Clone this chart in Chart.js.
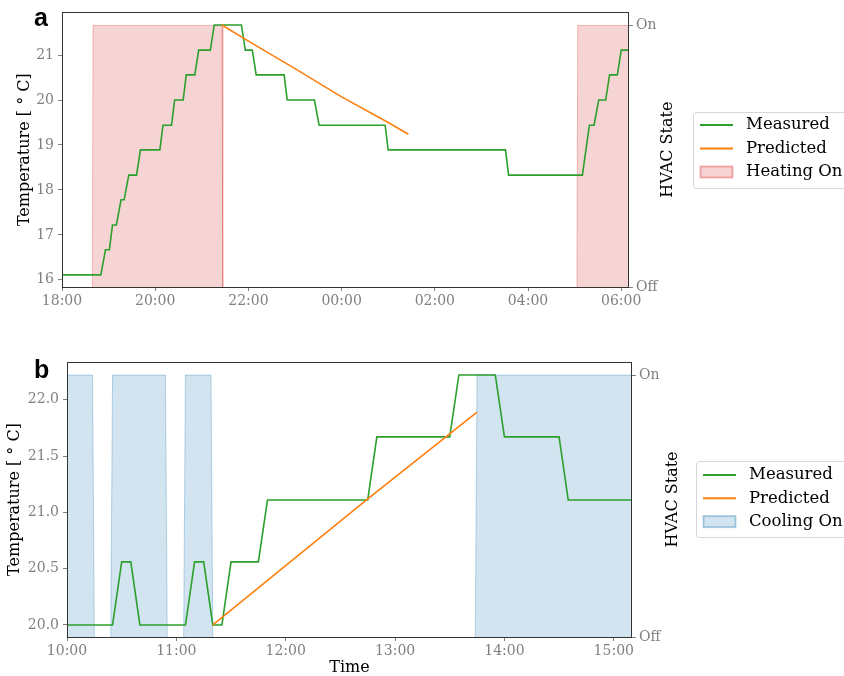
<!DOCTYPE html>
<html>
<head>
<meta charset="utf-8">
<script src="https://cdn.jsdelivr.net/npm/chart.js@4.4.1/dist/chart.umd.min.js"></script>
<style>
  html, body { margin: 0; padding: 0; background: #fff; }
  #wrap { position: relative; width: 844px; height: 676px; overflow: hidden; }
  .panel { position: absolute; left: 0; width: 844px; }
  #panelA { top: 0; height: 310px; }
  #panelB { top: 330px; height: 346px; }
</style>
</head>
<body>
<div id="wrap">
  <div class="panel" id="panelA"><canvas id="chartA" width="844" height="310"></canvas></div>
  <div class="panel" id="panelB"><canvas id="chartB" width="844" height="346"></canvas></div>
</div>
<script>
// ---- panel a: heating overnight ----
const heatStart = 18;
const heatEnd = '06:10';
const heatMeasuredTimes = ['18:00', '18:50', '18:56', '19:01', '19:05', '19:10', '19:16', '19:20', '19:26', '19:36',
  '19:41', '20:06', '20:10', '20:21', '20:25', '20:36', '20:40', '20:51', '20:56', '21:11', '21:16', '21:51',
  '21:56', '22:05', '22:10', '22:46', '22:50', '23:25', '23:31', '00:56', '01:00', '03:31', '03:35', '05:10',
  '05:19', '05:25', '05:31', '05:40', '05:45', '05:55', '06:00', '06:10'];
const heatMeasuredTemps = [16.11, 16.11, 16.67, 16.67, 17.22, 17.22, 17.78, 17.78, 18.33, 18.33,
  18.89, 18.89, 19.44, 19.44, 20.0, 20.0, 20.56, 20.56, 21.11, 21.11, 21.67, 21.67,
  21.11, 21.11, 20.56, 20.56, 20.0, 20.0, 19.44, 19.44, 18.89, 18.89, 18.33, 18.33,
  19.44, 19.44, 20.0, 20.0, 20.56, 20.56, 21.11, 21.11];
const heatPredictedTimes = ['21:26', '22:00', '23:00', '00:00', '01:00', '01:26'];
const heatPredictedTemps = [21.67, 21.31, 20.70, 20.07, 19.50, 19.24];
const heatStateTimes = ['18:00', '18:39', '18:40', '21:26', '21:27', '05:03', '05:04', '06:10'];
const heatState = [0, 0, 1, 1, 0, 0, 1, 1];
const heatTimeTicks = ['18:00', '20:00', '22:00', '00:00', '02:00', '04:00', '06:00'];
const heatTempTicks = [16, 17, 18, 19, 20, 21];

// ---- panel b: cooling during the day ----
const coolStart = 10;
const coolEnd = '15:10';
const coolMeasuredTimes = ['10:00', '10:25', '10:30', '10:35', '10:40', '11:05', '11:10', '11:15', '11:20', '11:25',
  '11:30', '11:45', '11:50', '12:45', '12:50', '13:30', '13:35', '13:55', '14:00', '14:30', '14:35', '15:10'];
const coolMeasuredTemps = [20.0, 20.0, 20.56, 20.56, 20.0, 20.0, 20.56, 20.56, 20.0, 20.0,
  20.56, 20.56, 21.11, 21.11, 21.67, 21.67, 22.22, 22.22, 21.67, 21.67, 21.11, 21.11];
const coolPredictedTimes = ['11:20', '12:45', '13:45'];
const coolPredictedTemps = [20.0, 21.12, 21.89];
const coolStateTimes = ['10:00', '10:14', '10:15', '10:24', '10:25', '10:54', '10:55', '11:04', '11:05',
  '11:19', '11:20', '13:44', '13:45', '15:10'];
const coolState = [1, 1, 0, 0, 1, 1, 0, 0, 1, 1, 0, 0, 1, 1];
const coolTimeTicks = ['10:00', '11:00', '12:00', '13:00', '14:00', '15:00'];
const coolTempTicks = [20.0, 20.5, 21.0, 21.5, 22.0];

const stateTicks = [0, 1];
const stateLabels = ['Off', 'On'];

const SERIF = "'DejaVu Serif', serif";
const TICK_GREY = '#808080';

function toHours(clock, startHour) {
  const [h, m] = clock.split(':').map(Number);
  let t = h + m / 60 - startHour;
  if (t < 0) t += 24;
  return t;
}

function toPoints(times, values, startHour) {
  return times.map((t, i) => ({ x: toHours(t, startHour), y: values[i] }));
}

// frame, axis titles, panel letter and legend
const panelDecor = {
  id: 'panelDecor',
  afterDatasetsDraw(chart) {
    const { ctx, chartArea: a } = chart;
    ctx.save();
    ctx.strokeStyle = '#333';
    ctx.lineWidth = 1;
    ctx.strokeRect(Math.round(a.left) + 0.5, Math.round(a.top) + 0.5,
      Math.round(a.right - a.left) - 1, Math.round(a.bottom - a.top));
    ctx.restore();
  },
  afterDraw(chart, args, opts) {
    const { ctx, chartArea: a } = chart;
    const midY = (a.top + a.bottom) / 2;
    ctx.save();
    ctx.fillStyle = '#000';
    ctx.font = '16px ' + SERIF;
    ctx.textAlign = 'center';
    ctx.textBaseline = 'middle';

    // left title
    ctx.save();
    ctx.translate(opts.leftTitleX, midY);
    ctx.rotate(-Math.PI / 2);
    ctx.fillText(opts.leftTitle, 0, 0);
    ctx.restore();

    // right title (reads bottom to top)
    ctx.save();
    ctx.translate(opts.rightTitleX, midY);
    ctx.rotate(-Math.PI / 2);
    ctx.fillText(opts.rightTitle, 0, 0);
    ctx.restore();

    if (opts.bottomTitle) {
      ctx.fillText(opts.bottomTitle, (a.left + a.right) / 2, opts.bottomTitleY);
    }

    // panel letter
    ctx.font = "bold 25px 'Liberation Sans', Arial, sans-serif";
    ctx.textAlign = 'left';
    ctx.textBaseline = 'alphabetic';
    ctx.fillText(opts.letter, opts.letterX, opts.letterY);

    // legend
    const lg = opts.legend;
    ctx.beginPath();
    ctx.roundRect(lg.x + 0.5, lg.y + 0.5, lg.w, lg.h, 3);
    ctx.fillStyle = 'rgba(255,255,255,0.8)';
    ctx.fill();
    ctx.strokeStyle = '#d6d6d6';
    ctx.lineWidth = 1;
    ctx.stroke();

    ctx.font = '16.5px ' + SERIF;
    ctx.textBaseline = 'middle';
    chart.data.datasets.forEach((ds, i) => {
      const y = lg.y + lg.first + i * lg.step;
      if (ds.fill) {
        ctx.fillStyle = ds.backgroundColor;
        ctx.fillRect(lg.x + lg.sx0, y - 6, lg.sx1 - lg.sx0, 12);
        ctx.strokeStyle = ds.borderColor;
        ctx.strokeRect(lg.x + lg.sx0 + 0.5, y - 6 + 0.5, lg.sx1 - lg.sx0 - 1, 11);
      } else {
        ctx.strokeStyle = ds.borderColor;
        ctx.lineWidth = 2;
        ctx.beginPath();
        ctx.moveTo(lg.x + lg.sx0, y);
        ctx.lineTo(lg.x + lg.sx1, y);
        ctx.stroke();
      }
      ctx.fillStyle = '#000';
      ctx.fillText(ds.label, lg.x + lg.tx, y);
    });
    ctx.restore();
  }
};

function makePanel(canvasId, p) {
  const edgeHidden = (c) => (c.p0.parsed.y === 0 && c.p1.parsed.y === 0) ? 'rgba(0,0,0,0)' : p.stateEdge;
  return new Chart(document.getElementById(canvasId), {
    type: 'line',
    data: {
      datasets: [
        {
          label: 'Measured',
          data: toPoints(p.measuredTimes, p.measuredTemps, p.start),
          borderColor: '#2ca02c',
          borderWidth: 1.6,
          pointRadius: 0,
          yAxisID: 'y',
          order: 2
        },
        {
          label: 'Predicted',
          data: toPoints(p.predictedTimes, p.predictedTemps, p.start),
          borderColor: '#ff7f0e',
          borderWidth: 1.6,
          pointRadius: 0,
          yAxisID: 'y',
          order: 1
        },
        {
          label: p.stateLabel,
          data: toPoints(p.stateTimes, p.state, p.start),
          borderColor: p.stateEdge,
          backgroundColor: p.stateFill,
          borderWidth: 1,
          pointRadius: 0,
          fill: 'origin',
          yAxisID: 'y2',
          order: 3,
          segment: { borderColor: edgeHidden }
        }
      ]
    },
    options: {
      responsive: false,
      animation: false,
      devicePixelRatio: 1,
      layout: { padding: { top: p.padTop, left: 0, right: 0, bottom: 0 } },
      plugins: {
        legend: { display: false },
        tooltip: { enabled: false },
        panelDecor: p.decor
      },
      scales: {
        x: {
          type: 'linear',
          min: 0,
          max: toHours(p.end, p.start),
          afterBuildTicks: s => { s.ticks = p.timeTicks.map(l => ({ value: toHours(l, p.start) })); },
          afterFit: s => { s.height = p.xHeight; },
          ticks: {
            autoSkip: false,
            maxRotation: 0,
            padding: 2,
            color: TICK_GREY,
            font: { family: SERIF, size: 14 },
            callback: (v, i) => p.timeTicks[i]
          },
          grid: { drawOnChartArea: false, drawTicks: true, tickLength: 4, color: TICK_GREY },
          border: { display: false }
        },
        y: {
          type: 'linear',
          position: 'left',
          min: p.tempMin,
          max: p.tempMax,
          afterBuildTicks: s => { s.ticks = p.tempTicks.map(v => ({ value: v })); },
          afterFit: s => { s.width = p.leftWidth; },
          ticks: {
            padding: 4,
            color: TICK_GREY,
            font: { family: SERIF, size: 14 },
            callback: v => v.toFixed(p.tempDecimals)
          },
          grid: { drawOnChartArea: false, drawTicks: true, tickLength: 4, color: TICK_GREY },
          border: { display: false }
        },
        y2: {
          type: 'linear',
          position: 'right',
          min: 0,
          max: 1.05,
          afterBuildTicks: s => { s.ticks = stateTicks.map(v => ({ value: v })); },
          afterFit: s => { s.width = p.rightWidth; },
          ticks: {
            padding: 3,
            color: TICK_GREY,
            font: { family: SERIF, size: 14 },
            callback: (v, i) => stateLabels[i]
          },
          grid: { drawOnChartArea: false, drawTicks: true, tickLength: 4, color: TICK_GREY },
          border: { display: false }
        }
      }
    },
    plugins: [panelDecor]
  });
}

const chartA = makePanel('chartA', {
  start: heatStart, end: heatEnd,
  measuredTimes: heatMeasuredTimes, measuredTemps: heatMeasuredTemps,
  predictedTimes: heatPredictedTimes, predictedTemps: heatPredictedTemps,
  stateTimes: heatStateTimes, state: heatState, stateLabel: 'Heating On',
  stateFill: 'rgba(214,39,40,0.2)', stateEdge: 'rgba(214,39,40,0.3)',
  timeTicks: heatTimeTicks, tempTicks: heatTempTicks, tempDecimals: 0,
  tempMin: 15.84, tempMax: 21.95,
  padTop: 12, xHeight: 23, leftWidth: 62, rightWidth: 215,
  decor: {
    leftTitle: 'Temperature [ \u00B0 C]', leftTitleX: 25,
    rightTitle: 'HVAC State', rightTitleX: 668,
    letter: 'a', letterX: 34, letterY: 26,
    legend: { x: 693, y: 112, w: 170, h: 76, first: 13, step: 23.5, sx0: 7, sx1: 40, tx: 53 }
  }
});

const chartB = makePanel('chartB', {
  start: coolStart, end: coolEnd,
  measuredTimes: coolMeasuredTimes, measuredTemps: coolMeasuredTemps,
  predictedTimes: coolPredictedTimes, predictedTemps: coolPredictedTemps,
  stateTimes: coolStateTimes, state: coolState, stateLabel: 'Cooling On',
  stateFill: 'rgba(31,119,180,0.2)', stateEdge: 'rgba(31,119,180,0.3)',
  timeTicks: coolTimeTicks, tempTicks: coolTempTicks, tempDecimals: 1,
  tempMin: 19.893, tempMax: 22.335,
  padTop: 32, xHeight: 39, leftWidth: 67, rightWidth: 212,
  decor: {
    leftTitle: 'Temperature [ \u00B0 C]', leftTitleX: 14.5,
    rightTitle: 'HVAC State', rightTitleX: 673,
    bottomTitle: 'Time', bottomTitleY: 338,
    letter: 'b', letterX: 34, letterY: 48,
    legend: { x: 696, y: 131, w: 170, h: 76, first: 14, step: 23.3, sx0: 7, sx1: 40, tx: 53 }
  }
});
</script>
</body>
</html>
